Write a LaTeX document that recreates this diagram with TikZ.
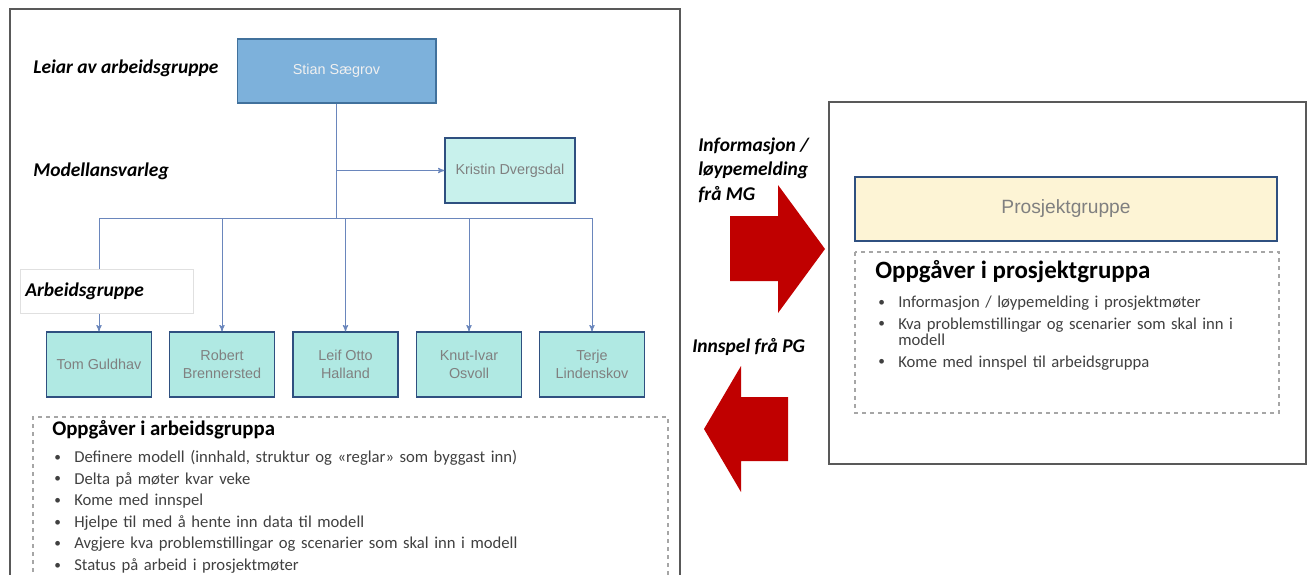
\documentclass[tikz,border=0pt]{standalone}
\usepackage{fontspec}
\setmainfont{Carlito}
\newfontfamily\arialfont{Liberation Sans}
\usetikzlibrary{arrows,positioning}
\definecolor{leaderfill}{HTML}{7DB1DB}
\definecolor{leaderdraw}{HTML}{41719C}
\definecolor{modelfill}{HTML}{C8F1EC}
\definecolor{memberfill}{HTML}{B0E9E3}
\definecolor{boxdraw}{HTML}{2F5080}
\definecolor{pgfill}{HTML}{FDF4D5}
\definecolor{linkblue}{HTML}{6A86BC}
\definecolor{namegray}{HTML}{808080}
\definecolor{taskgray}{HTML}{404040}
\definecolor{framegray}{HTML}{595959}
\definecolor{dashgray}{HTML}{A6A6A6}
\definecolor{bigred}{HTML}{C00000}

\newcommand{\taskdot}{\raisebox{0.15ex}{\fontsize{10}{10}\selectfont\textbullet}}
\newenvironment{tasklist}{\begin{list}{\taskdot}{\setlength\leftmargin{15pt}%
  \setlength\labelsep{10pt}\setlength\labelwidth{5pt}\setlength\itemsep{4pt}%
  \setlength\parsep{0pt}\setlength\topsep{0pt}\setlength\partopsep{0pt}}}{\end{list}}

\tikzstyle{leader} = [rectangle, draw=leaderdraw, fill=leaderfill, line width=1pt,
    minimum width=149pt, minimum height=48pt, inner sep=0pt, text=white!94!black,
    font=\arialfont\fontsize{10.8}{13.5}\selectfont]
\tikzstyle{member} = [rectangle, draw=boxdraw, fill=memberfill, line width=1pt,
    minimum width=78.75pt, minimum height=48.75pt, inner sep=0pt, align=center,
    text=namegray, font=\arialfont\fontsize{10.8}{13.5}\selectfont]
\tikzstyle{rolelabel} = [anchor=west, inner sep=0pt, align=left,
    font=\bfseries\itshape\fontsize{14.6}{18.4}\selectfont]
\tikzstyle{taskhead} = [anchor=west, inner sep=0pt, font=\bfseries\fontsize{15.6}{18}\selectfont]
\tikzstyle{tasktext} = [anchor=north west, inner sep=0pt, text width=480pt, text=taskgray,
    font=\fontsize{12.5}{12.2}\selectfont]
\tikzstyle{link} = [linkblue, line width=0.75pt]

\begin{document}
\begin{tikzpicture}[x=0.75pt,y=-0.75pt,>=stealth']
  \useasboundingbox (0,0) rectangle (1308,574);
  % frames
  \draw[framegray, line width=0.8pt] (10,580) -- (10,9) -- (680,9) -- (680,580);
  \draw[framegray, line width=0.8pt] (829,102) rectangle (1306,464);
  \draw[dashgray, dashed, line width=0.8pt] (33,580) -- (33,417) -- (668,417) -- (668,580);
  \draw[dashgray, dashed, line width=0.8pt] (855,252) rectangle (1279,413);

  % org chart
  \node[leader] (stian) at (336.5,71) {Stian Sægrov};
  \node[member, fill=modelfill, minimum width=97.5pt] (kristin) at (510,170.5) {Kristin Dvergsdal};
  \node[member] (tom) at (99,364.5) {Tom Guldhav};
  \node[member] (robert) at (222,364.5) {Robert\\Brennersted};
  \node[member] (leif) at (345.5,364.5) {Leif Otto\\Halland};
  \node[member] (knut) at (469,364.5) {Knut-Ivar\\Osvoll};
  \node[member] (terje) at (592,364.5) {Terje\\Lindenskov};

  \coordinate (hub) at (336.5,218);
  \draw[link] (stian.south) -- (hub);
  \draw[link,->] (stian.south |- kristin.west) -- (kristin.west);
  \draw[link] (hub -| tom.north) -- (hub -| terje.north);
  \foreach \m in {tom,robert,leif,knut,terje}
    \draw[link,->] (hub -| \m.north) -- (\m.north);

  \node[rolelabel] (leiar) at (33,68) {Leiar av arbeidsgruppe};
  \node[rolelabel] (modell) at (33,171) {Modellansvarleg};
  \node[rolelabel, draw=black!12, fill=white, inner xsep=3.75pt, text width=122pt,
        minimum height=33pt] (agtag) at (20,291) {Arbeidsgruppe};

  % tasks of the work group
  \node[taskhead] (awhead) at (52,430) {Oppgåver i arbeidsgruppa};
  \node[tasktext] (awlist) at (54,446) {\begin{tasklist}
    \item Definere modell (innhald, struktur og «reglar» som byggast inn)
    \item Delta på møter kvar veke
    \item Kome med innspel
    \item Hjelpe til med å hente inn data til modell
    \item Avgjere kva problemstillingar og scenarier som skal inn i modell
    \item Status på arbeid i prosjektmøter
  \end{tasklist}};

  % project group
  \node[leader, fill=pgfill, draw=boxdraw, text=namegray, minimum width=316.5pt,
        font=\arialfont\fontsize{14.4}{17}\selectfont] (pg) at (1066,209) {Prosjektgruppe};
  \node[taskhead, font=\bfseries\fontsize{18.7}{22}\selectfont] (pghead) at (875,272) {Oppgåver i prosjektgruppa};
  \node[tasktext, text width=380pt] (pglist) at (878,291) {\begin{tasklist}
    \item Informasjon / løypemelding i prosjektmøter
    \item Kva problemstillingar og scenarier som skal inn i\newline modell
    \item Kome med innspel til arbeidsgruppa
  \end{tasklist}};

  % flows between the groups
  \fill[bigred] (730,216) -- (778,216) -- (778,185) -- (825,249) -- (778,313)
    -- (778,281) -- (730,281) -- cycle;
  \fill[bigred] (788,397) -- (741,397) -- (741,366) -- (704,429) -- (741,492)
    -- (741,461) -- (788,461) -- cycle;
  \node[rolelabel] (tomg) at (698,170) {Informasjon /\\ løypemelding\\frå MG};
  \node[rolelabel] (frapg) at (692,347) {Innspel frå PG};
\end{tikzpicture}
\end{document}
